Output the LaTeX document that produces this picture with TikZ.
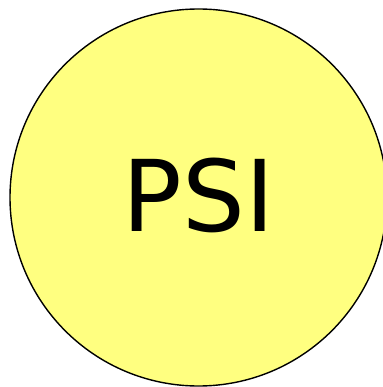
\documentclass[tikz,border=0pt]{standalone}
\usepackage{fontspec}
\setsansfont{DejaVu Sans}
\usepackage{tikz}
\usetikzlibrary{positioning}
\definecolor{psiYellow}{RGB}{255,255,128}
\tikzset{
    base/.style={font=\sffamily, align=center},
    bubble/.style={base, circle, draw=black, line width=1.4pt, fill=psiYellow,
                   inner sep=0pt, minimum size=377pt},
    lettering/.style={base, font=\sffamily\fontsize{99}{99}\selectfont, yshift=2.5pt}
}
\begin{document}
\begin{tikzpicture}[x=1pt, y=-1pt]
  \useasboundingbox (0,0) rectangle (382,387);
  \node[bubble, label={[lettering]center:PSI}] (psi) at (198.5,197.5) {};
\end{tikzpicture}
\end{document}
